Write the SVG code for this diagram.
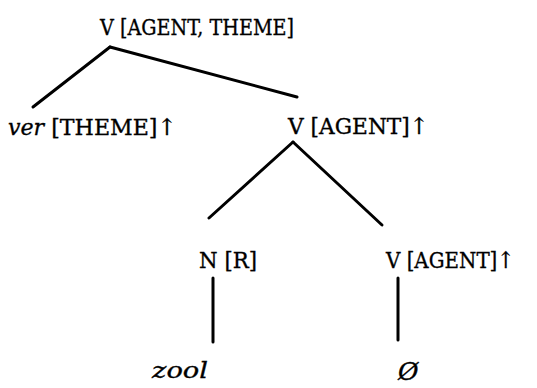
<svg xmlns="http://www.w3.org/2000/svg" width="537" height="388" viewBox="0 0 537 388">
<style>
text{font-family:"DejaVu Serif","Liberation Serif",serif;font-size:23px;fill:#000;stroke:#000;stroke-width:0.35}
.i{font-style:italic}
.c line{stroke:#000;stroke-width:3;stroke-linecap:round}
</style>
<rect width="537" height="388" fill="#fff"/>
<g class="c" id="connectors">
<line x1="110" y1="47" x2="33" y2="107"/>
<line x1="110" y1="47" x2="297" y2="97"/>
<line x1="293" y1="142" x2="209" y2="218"/>
<line x1="293" y1="142" x2="382" y2="225"/>
<line x1="213" y1="278" x2="213" y2="342"/>
<line x1="398" y1="278" x2="398" y2="340"/>
</g>
<g id="n-root"><text x="100" y="35" textLength="194" lengthAdjust="spacingAndGlyphs">V [AGENT, THEME]</text></g>
<g id="n-ver"><text x="8" y="135" textLength="168" lengthAdjust="spacingAndGlyphs"><tspan class="i">ver</tspan> [THEME]↑</text></g>
<g id="n-vagent1"><text x="288" y="134" textLength="140" lengthAdjust="spacingAndGlyphs">V [AGENT]↑</text></g>
<g id="n-nr"><text x="199" y="268" textLength="58" lengthAdjust="spacingAndGlyphs">N [R]</text></g>
<g id="n-vagent2"><text x="386" y="268" textLength="128" lengthAdjust="spacingAndGlyphs">V [AGENT]↑</text></g>
<g id="n-zool"><text class="i" x="152" y="378" textLength="56" lengthAdjust="spacingAndGlyphs">zool</text></g>
<g id="n-zero"><text class="i" x="398" y="380" style="font-size:25px">Ø</text></g>
</svg>
